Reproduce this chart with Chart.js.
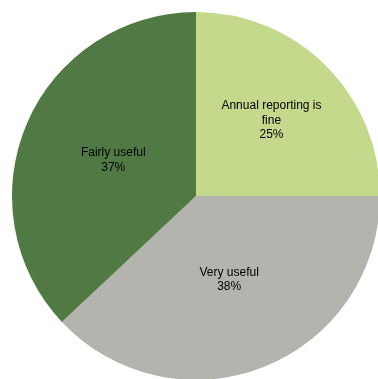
<!DOCTYPE html>
<html>
<head>
<meta charset="utf-8">
<script src="https://cdn.jsdelivr.net/npm/chart.js@4/dist/chart.umd.min.js"></script>
<style>
  html, body { margin: 0; padding: 0; background: #fff; overflow: hidden; }
  #wrap { position: absolute; left: 0; top: 0; width: 392px; height: 392px; }
</style>
</head>
<body>
<div id="wrap"><canvas id="pie-chart" width="392" height="392"></canvas></div>
<script>
const labels = [['Annual reporting is', 'fine'], ['Very useful'], ['Fairly useful']];
const values = [25, 38, 37];
const colors = ['#c5d98d', '#b3b4ae', '#517943'];

// how far out each label sits, as a share of the radius
const labelRadius = [0.58, 0.49, 0.49];

// draw the category name and percentage inside each slice
const sliceLabels = {
  id: 'sliceLabels',
  afterDatasetsDraw(chart) {
    const ctx = chart.ctx;
    const meta = chart.getDatasetMeta(0);
    const total = values.reduce((a, b) => a + b, 0);
    ctx.save();
    ctx.font = '12px "Liberation Sans", Arial, sans-serif';
    ctx.fillStyle = '#000';
    ctx.textAlign = 'center';
    ctx.textBaseline = 'middle';
    meta.data.forEach((arc, i) => {
      const p = arc.getProps(['x', 'y', 'startAngle', 'endAngle', 'outerRadius'], true);
      const mid = (p.startAngle + p.endAngle) / 2;
      const r = p.outerRadius * labelRadius[i];
      const cx = p.x + Math.cos(mid) * r;
      const cy = p.y + Math.sin(mid) * r;
      const lines = labels[i].concat([Math.round(values[i] / total * 100) + '%']);
      const lh = 14.5;
      lines.forEach((t, j) => {
        ctx.fillText(t, cx, cy + (j - (lines.length - 1) / 2) * lh);
      });
    });
    ctx.restore();
  }
};

new Chart(document.getElementById('pie-chart').getContext('2d'), {
  type: 'pie',
  data: {
    labels: labels.map(l => l.join(' ')),
    datasets: [{
      data: values,
      backgroundColor: colors,
      borderWidth: 0
    }]
  },
  options: {
    responsive: false,
    animation: false,
    layout: { padding: 12 },
    plugins: {
      legend: { display: false },
      tooltip: { enabled: false }
    }
  },
  plugins: [sliceLabels]
});
</script>
</body>
</html>
